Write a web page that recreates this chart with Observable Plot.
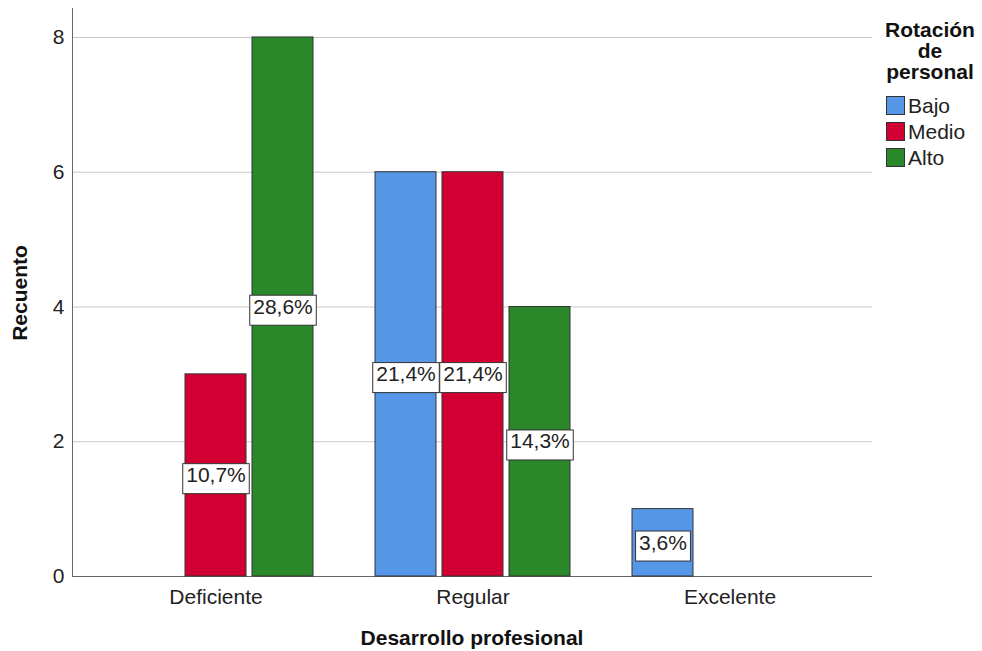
<!DOCTYPE html>
<html><head><meta charset="utf-8">
<script src="https://cdn.jsdelivr.net/npm/d3@7"></script>
<script src="https://cdn.jsdelivr.net/npm/@observablehq/plot@0.6"></script>
<style>
body{margin:0;background:#fff;font-family:"Liberation Sans",Arial,sans-serif;color:#222;}
#wrap{position:relative;width:982px;height:651px;overflow:hidden;}
#wrap svg{position:absolute;left:0;top:0;}
.ttl{position:absolute;font-weight:bold;font-size:21px;color:#111;white-space:nowrap;}
#xt{left:472px;top:626px;transform:translateX(-50%);}
#yt{left:20px;top:293px;transform:translate(-50%,-50%) rotate(-90deg);}
#legend{position:absolute;left:876px;top:19px;width:106px;}
#legend .lt{font-weight:bold;font-size:21px;line-height:21px;text-align:center;color:#111;margin-left:2px;}
#legend .it{position:absolute;left:10px;height:21px;font-size:21px;line-height:20px;color:#222;white-space:nowrap;}
#legend .sw{display:inline-block;width:19px;height:19px;border:1px solid #333;vertical-align:top;margin-right:3px;box-sizing:border-box;}
</style></head><body>
<div id="wrap">
  <div id="xt" class="ttl">Desarrollo profesional</div>
  <div id="yt" class="ttl">Recuento</div>
  <div id="legend"><div class="lt">Rotación<br>de<br>personal</div></div>
</div>
<script>
const groups = ["Deficiente", "Regular", "Excelente"];
const rotations = ["Bajo", "Medio", "Alto"];
const colors = ["#5596e6", "#d20032", "#2a872a"];
const bajo = [0, 6, 1];
const medio = [3, 6, 0];
const alto = [8, 4, 0];
const yTicks = [0, 2, 4, 6, 8];

const series = [bajo, medio, alto];
const total = d3.sum(series.flat());
const fmt = d3.format(".1f");
const data = [];
groups.forEach((g, i) => rotations.forEach((r, j) => {
  const c = series[j][i];
  if (c > 0) data.push({group: g, rot: r, count: c, label: fmt(c / total * 100).replace(".", ",") + "%"});
}));

const W = 982, H = 651, mt = 8, mb = 75, ml = 72, mr = 110;
const yDomain = [0, 8.43];
const baseStyle = {fontFamily: "Liberation Sans, Arial, sans-serif", fontSize: "21px", color: "#222", background: "transparent"};

// background layer: grid, axis lines, y tick labels
const back = Plot.plot({
  width: W, height: H,
  marginTop: mt, marginBottom: mb, marginLeft: ml, marginRight: mr,
  style: baseStyle,
  x: {domain: [0, 1], axis: null},
  y: {domain: yDomain, axis: null},
  marks: [
    Plot.ruleY(yTicks.filter(d => d > 0), {stroke: "#c8c8c8", strokeWidth: 1}),
    Plot.ruleY([0], {stroke: "#666", strokeWidth: 1}),
    Plot.ruleX([0], {stroke: "#666", strokeWidth: 1}),
    Plot.text(yTicks, {y: d => d, text: d => String(d), frameAnchor: "left", textAnchor: "end", dx: -8, fill: "#222", fontSize: 21})
  ]
});

// foreground layer: grouped bars via fx facets
const chart = Plot.plot({
  width: W, height: H,
  marginTop: mt, marginBottom: mb, marginLeft: ml, marginRight: mr,
  style: baseStyle,
  fx: {domain: groups, paddingInner: 0, paddingOuter: 0.054, label: null, axis: "bottom", tickSize: 0, tickPadding: 13},
  x: {domain: rotations, paddingInner: 0.088, paddingOuter: 0.44, axis: null},
  y: {domain: yDomain, axis: null},
  color: {domain: rotations, range: colors},
  marks: [
    Plot.barY(data, {fx: "group", x: "rot", y: "count", fill: "rot", stroke: "#333", strokeWidth: 1}),
    Plot.text(data, {fx: "group", x: "rot", y: d => d.count / 2, text: "label", fill: "#222", fontSize: 21, className: "pctlab"})
  ]
});
const wrap = document.getElementById("wrap");
wrap.insertBefore(chart, wrap.firstChild);
wrap.insertBefore(back, wrap.firstChild);

// white boxes behind percentage labels
chart.querySelectorAll(".pctlab text").forEach(t => {
  const b = t.getBBox();
  const rect = document.createElementNS("http://www.w3.org/2000/svg", "rect");
  rect.setAttribute("x", b.x - 3.5);
  rect.setAttribute("y", b.y + 0.5);
  rect.setAttribute("width", b.width + 7);
  rect.setAttribute("height", b.height + 7);
  rect.setAttribute("fill", "#fff");
  rect.setAttribute("stroke", "#333");
  rect.setAttribute("stroke-width", 1);
  if (t.getAttribute("transform")) rect.setAttribute("transform", t.getAttribute("transform"));
  t.parentNode.insertBefore(rect, t);
});

// legend
const leg = document.getElementById("legend");
rotations.forEach((r, j) => {
  const it = document.createElement("div");
  it.className = "it";
  it.style.top = (77 + j * 26) + "px";
  it.innerHTML = `<span class="sw" style="background:${colors[j]}"></span>${r}`;
  leg.appendChild(it);
});
</script>
</body></html>
